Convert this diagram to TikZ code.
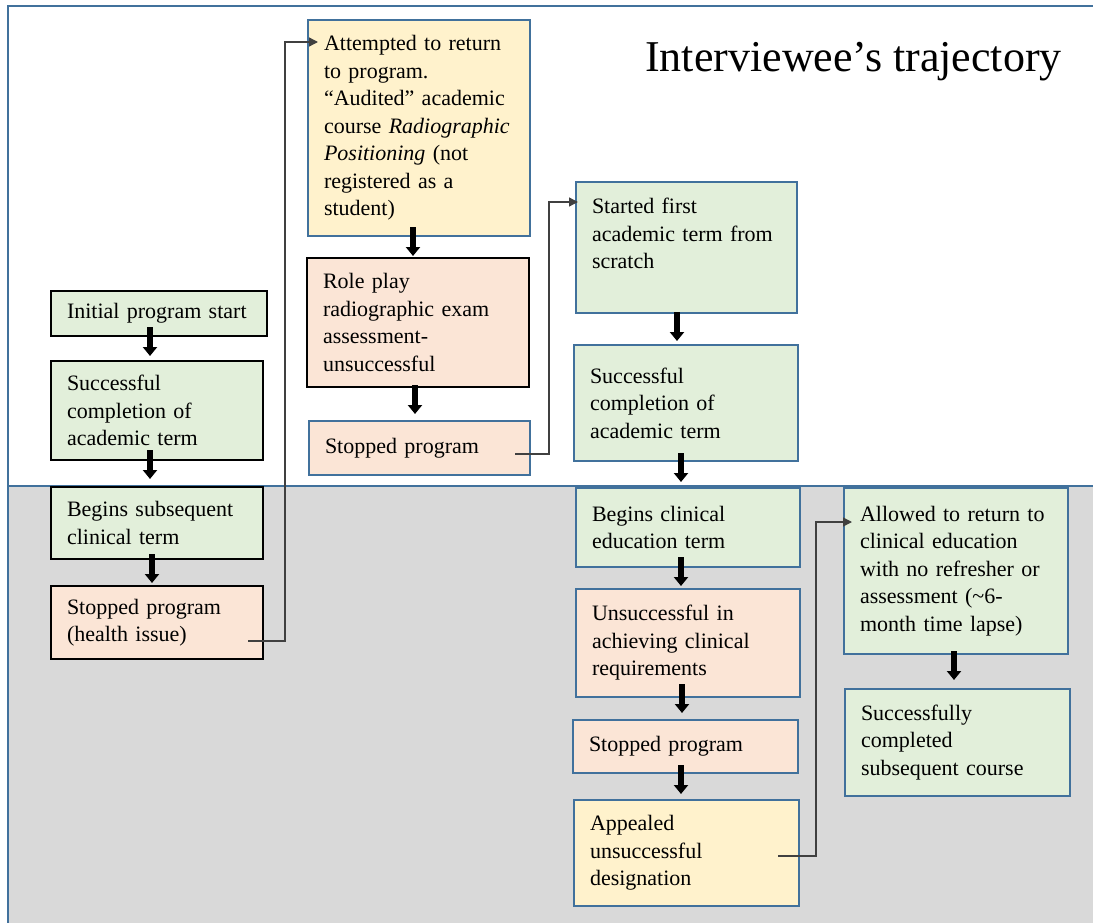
\documentclass[tikz,border=0pt]{standalone}
\usepackage{fontspec}
\setmainfont{Liberation Serif}
\usetikzlibrary{arrows.meta}
\definecolor{gfill}{HTML}{E2EFDA}
\definecolor{pfill}{HTML}{FBE5D6}
\definecolor{yfill}{HTML}{FFF2CC}
\definecolor{bblue}{HTML}{41719C}
\definecolor{bggray}{HTML}{D9D9D9}
\definecolor{conncol}{HTML}{404040}
\newcommand\mybox[7]{%
  \pgfmathsetlengthmacro\mytw{#5-#3-32}%
  \pgfmathsetlengthmacro\mymh{#6-#4}%
  \node[#2, anchor=north west, text width=\mytw, minimum height=\mymh] (#1) at (#3,#4) {#7};}
\begin{document}
\begin{tikzpicture}[x=1pt,y=-1pt,
  box/.style={outer sep=0pt, inner xsep=16pt, inner ysep=0pt, align=left,
    font=\fontsize{22}{27.5}\selectfont, line width=1.8pt},
  gblue/.style={box, fill=gfill, draw=bblue},
  pblue/.style={box, fill=pfill, draw=bblue},
  yblue/.style={box, fill=yfill, draw=bblue},
  gblack/.style={box, fill=gfill, draw=black, line width=2.2pt},
  pblack/.style={box, fill=pfill, draw=black, line width=2.2pt},
  frame/.style={draw=bblue, line width=2.4pt},
  bigarrow/.style={line width=5.5pt, -{Triangle[width=14pt,length=9pt]}},
  conn/.style={draw=conncol, line width=1.3pt, -{Triangle[width=9pt,length=9pt]}}
]
\useasboundingbox (0,0) rectangle (1093,923);
\begin{scope}
\clip (0,0) rectangle (1093,923);
\fill[bggray] (9,486) rectangle (1100,930);
\draw[frame] (1100,6) -- (8,6) -- (8,930);
\draw[frame] (8,486) -- (1100,486);
\end{scope}

\node[font=\fontsize{44}{50}\selectfont, anchor=base west, inner sep=0pt] (title) at (645,72) {Interviewee’s trajectory};

% left column
\mybox{n1}{gblack}{51}{291}{267}{336}{Initial program start}
\mybox{n2}{gblack}{51}{361}{263}{460}{Successful\\completion of\\academic term}
\mybox{n3}{gblack}{51}{487}{263}{559}{Begins subsequent\\clinical term}
\mybox{n4}{pblack}{51}{586}{263}{659}{Stopped program\\(health issue)}

% middle column
\mybox{n5}{yblue}{308}{20}{530}{236}{Attempted to return\\to program.\\“Audited” academic\\course \textit{Radiographic}\\\textit{Positioning} (not\\registered as a\\student)}
\mybox{n6}{pblack}{307}{258}{529}{387}{Role play\\radiographic exam\\assessment-\\unsuccessful}
\mybox{n7}{pblue}{309}{421}{530}{475}{Stopped program}

% right-middle column
\mybox{n8}{gblue}{576}{182}{797}{313}{Started first\\academic term from\\scratch\\[0pt]\mbox{}}
\mybox{n9}{gblue}{574}{345}{798}{461}{Successful\\completion of\\academic term}
\mybox{n10}{gblue}{576}{488}{800}{567}{Begins clinical\\education term}
\mybox{n11}{pblue}{576}{589}{800}{697}{Unsuccessful in\\achieving clinical\\requirements}
\mybox{n12}{pblue}{573}{720}{798}{773}{Stopped program}
\mybox{n13}{yblue}{574}{800}{799}{906}{Appealed\\unsuccessful\\designation}

% right column
\mybox{n14}{gblue}{844}{488}{1068}{654}{Allowed to return to\\clinical education\\with no refresher or\\assessment (\textasciitilde6-\\month time lapse)}
\mybox{n15}{gblue}{845}{689}{1070}{796}{Successfully\\completed\\subsequent course}

% thick arrows (fixed length, starting just inside the upper box)
\draw[bigarrow] ([yshift=9pt]n1.south -| 150,0) -- ++(0,29);
\draw[bigarrow] ([yshift=10pt]n2.south -| 150,0) -- ++(0,29);
\draw[bigarrow] ([yshift=5pt]n3.south -| 152,0) -- ++(0,29);
\draw[bigarrow] ([yshift=9pt]n5.south -| 413,0) -- ++(0,29);
\draw[bigarrow] ([yshift=2pt]n6.south -| 415,0) -- ++(0,29);
\draw[bigarrow] ([yshift=1pt]n8.south -| 677,0) -- ++(0,29);
\draw[bigarrow] ([yshift=8pt]n9.south -| 681,0) -- ++(0,29);
\draw[bigarrow] ([yshift=10pt]n10.south -| 681,0) -- ++(0,29);
\draw[bigarrow] ([yshift=13pt]n11.south -| 682,0) -- ++(0,29);
\draw[bigarrow] ([yshift=8pt]n12.south -| 681,0) -- ++(0,29);
\draw[bigarrow] ([yshift=3pt]n14.south -| 954,0) -- ++(0,29);

% thin connectors
\coordinate (c1s) at (248,641);
\coordinate (c1e) at (318,42);
\draw[conn] (c1s) -- (285,641) |- (c1e);
\coordinate (c2s) at (515,454);
\coordinate (c2e) at (578,202);
\draw[conn] (c2s) -- (549,454) |- (c2e);
\coordinate (c3s) at (778,856);
\coordinate (c3e) at (852,522);
\draw[conn] (c3s) -- (816,856) |- (c3e);
\end{tikzpicture}
\end{document}
